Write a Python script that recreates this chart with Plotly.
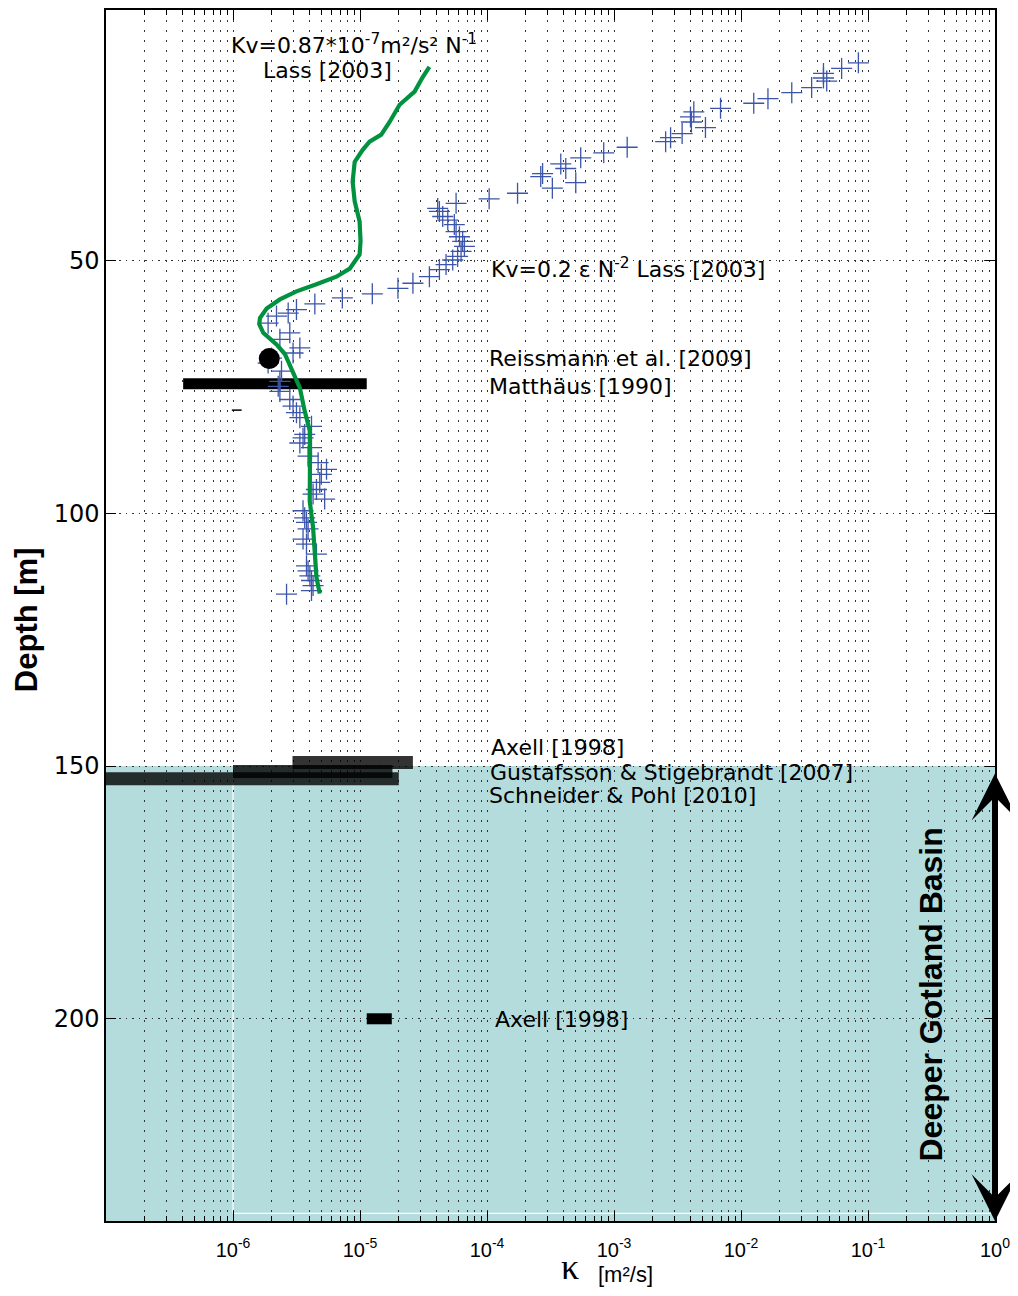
import plotly.graph_objects as go

# ---------------- data ----------------
# Kv = 0.87e-7 m2/s2 / N   (Lass 2003) - green profile
k_green = [3.52e-5, 3.12e-5, 2.69e-5, 2.31e-5, 2.05e-5, 1.71e-5, 1.47e-5, 1.19e-5, 1.05e-5,
           9.08e-6, 8.75e-6, 9.08e-6, 9.93e-6, 1.01e-5, 9.93e-6, 8.3e-6, 6.52e-6, 4.54e-6,
           3.16e-6, 2.34e-6, 1.84e-6, 1.63e-6, 1.61e-6, 1.73e-6, 2.2e-6, 2.56e-6, 2.89e-6,
           3.36e-6, 3.67e-6, 4.02e-6, 4.04e-6, 4.02e-6, 4.02e-6, 4.27e-6, 4.41e-6, 4.54e-6, 4.82e-6]
d_green = [11.7, 13.7, 16.6, 18.0, 19.2, 22.6, 25.1, 26.5, 28.1, 30.5, 34.4, 38.3, 42.3, 46.2,
           48.8, 51.6, 53.2, 54.7, 56.1, 57.7, 59.5, 61.4, 62.6, 64.3, 66.6, 68.5, 71.3, 75.2,
           79.8, 83.7, 89.0, 94.2, 97.6, 102.8, 108.0, 112.7, 115.9]

# Kv = 0.2 eps N^-2 (Lass 2003) - blue crosses
k_cross = [8.4e-2, 6.2e-2, 4.46e-2, 4.46e-2, 4.73e-2, 3.6e-2, 2.51e-2, 1.63e-2, 1.26e-2, 6.9e-3,
           4.25e-3, 4.0e-3, 4.07e-3, 5.25e-3, 3.44e-3, 2.79e-3, 2.55e-3, 1.27e-3, 8.3e-4, 5.47e-4,
           3.81e-4, 4.17e-4, 2.74e-4, 2.65e-4, 5.0e-4, 3.27e-4, 1.74e-4, 1.04e-4, 5.71e-5, 4.09e-5,
           4.22e-5, 4.48e-5, 4.91e-5, 5.53e-5, 5.71e-5, 6.07e-5, 6.43e-5, 6.64e-5, 6.25e-5, 5.87e-5,
           5.37e-5, 4.76e-5, 4.22e-5, 3.52e-5, 2.61e-5, 1.99e-5, 1.25e-5, 7.26e-6, 4.41e-6, 3.16e-6,
           2.72e-6, 2.2e-6, 1.89e-6, 2.8e-6, 2.34e-6, 3.36e-6, 2.97e-6, 2.01e-6, 1.89e-6, 2.41e-6,
           2.34e-6, 2.27e-6, 2.34e-6, 2.8e-6, 2.97e-6, 3.16e-6, 3.36e-6, 4.15e-6, 3.67e-6, 3.56e-6,
           3.36e-6, 4.15e-6, 3.9e-6, 4.68e-6, 5.45e-6, 4.96e-6, 4.82e-6, 4.54e-6, 4.27e-6, 5.27e-6,
           3.56e-6, 3.67e-6, 3.79e-6, 3.9e-6, 3.56e-6, 3.79e-6, 4.54e-6, 3.79e-6, 3.9e-6, 4.03e-6,
           4.15e-6, 4.27e-6, 4.15e-6, 2.64e-6]
d_cross = [10.9, 12.0, 13.0, 13.9, 14.5, 15.8, 16.8, 18.0, 18.9, 19.9,
           20.6, 21.6, 22.6, 23.7, 24.9, 25.7, 26.5, 27.6, 28.7, 29.7,
           30.9, 31.8, 32.8, 33.4, 34.6, 35.7, 36.7, 37.8, 38.7, 39.7,
           40.3, 41.3, 42.0, 42.9, 44.3, 45.3, 46.2, 47.2, 48.2, 49.2,
           49.9, 50.8, 51.8, 53.2, 54.5, 55.5, 56.6, 57.4, 58.6, 59.7,
           60.4, 61.0, 62.4, 64.3, 65.6, 67.3, 68.3, 69.3, 70.3, 71.9,
           73.9, 74.9, 75.9, 77.5, 78.8, 80.1, 81.1, 82.8, 84.4, 85.1,
           86.1, 87.0, 88.7, 90.0, 91.3, 92.3, 93.9, 95.3, 96.2, 97.2,
           99.5, 100.9, 101.8, 103.1, 105.1, 106.1, 108.1, 110.4, 111.4, 112.4,
           113.3, 114.3, 115.3, 116.0]

# Reissmann et al. [2009] point
k_reiss = [1.93e-6]
d_reiss = [69.4]

# small stray mark
k_mark = [1.07e-6]
d_mark = [79.6]

# Range bars (literature values)
bar_labels = ["Matthäus [1990]", "Axell [1998]", "Gustafsson & Stigebrandt [2007]",
              "Schneider & Pohl [2010]", "Axell [1998]"]
bar_kmin = [4.05e-7, 2.94e-6, 1.0e-6, 1.0e-7, 1.13e-5]
bar_kmax = [1.13e-5, 2.61e-5, 1.8e-5, 2.02e-5, 1.78e-5]
bar_depth = [74.4, 149.3, 151.1, 152.5, 200.0]
bar_colors = ["black", "rgba(0,0,0,0.8)", "rgba(0,0,0,0.8)", "rgba(0,0,0,0.8)", "black"]
bar_widths = [11, 13, 13, 13, 11]

# ticks
x_tickvals = [1e-6, 1e-5, 1e-4, 1e-3, 1e-2, 1e-1, 1e0]
x_ticktext = ["10<sup>-6</sup>", "10<sup>-5</sup>", "10<sup>-4</sup>", "10<sup>-3</sup>",
              "10<sup>-2</sup>", "10<sup>-1</sup>", "10<sup>0</sup>"]
x_minor = [m * 10.0 ** e for e in range(-7, 0) for m in range(2, 10)]
y_tickvals = [50, 100, 150, 200]

basin_top, basin_bottom = 150, 240

# The page body has an 8px margin: size the figure so the page needs no scrollbars.
OFF = 8
W, H = 1018 - 2 * OFF, 1296 - 2 * OFF
ML, MR, MT = 106 - OFF, 13, 0
MB = H + OFF - 1221
PW = W - ML - MR            # plot width in px
PH = H - MT - MB            # plot height in px
PX0, PY1 = 106, 1221        # plot left / bottom in page pixels
FIG_BOTTOM = H + OFF        # page pixel of figure bottom

# ---------------- figure ----------------
fig = go.Figure()

order = [3, 2, 1, 0, 4]
for i in order:
    fig.add_trace(go.Scatter(
        x=[bar_kmin[i], bar_kmax[i]], y=[bar_depth[i], bar_depth[i]],
        mode="lines", line=dict(color=bar_colors[i], width=bar_widths[i]),
        hoverinfo="skip", showlegend=False))

fig.add_trace(go.Scatter(
    x=k_cross, y=d_cross, mode="markers",
    marker=dict(symbol="cross-thin", size=15, line=dict(color="#3c55aa", width=1.3)),
    showlegend=False))

fig.add_trace(go.Scatter(
    x=k_green, y=d_green, mode="lines",
    line=dict(color="#00923f", width=4.2), showlegend=False))

fig.add_trace(go.Scatter(
    x=k_reiss, y=d_reiss, mode="markers",
    marker=dict(symbol="circle", size=21, color="black"), showlegend=False))

fig.add_trace(go.Scatter(
    x=k_mark, y=d_mark, mode="markers",
    marker=dict(symbol="line-ew", size=7, line=dict(color="black", width=1.5)),
    showlegend=False))

# shaded deeper basin
fig.add_shape(type="rect", xref="paper", yref="y", x0=0, x1=1, y0=basin_top, y1=basin_bottom,
              fillcolor="#b4dcdc", line=dict(width=0), layer="below")
fig.add_shape(type="line", xref="paper", yref="y", x0=1 / 7, x1=1 / 7, y0=152, y1=238.5,
              line=dict(color="white", width=1.2), layer="below")
fig.add_shape(type="line", xref="paper", yref="y", x0=1 / 7, x1=1, y0=238.5, y1=238.5,
              line=dict(color="white", width=1.2), layer="below")

txt_font = dict(family="DejaVu Sans", size=22, color="black")


def px2paper_x(px):
    return (px - PX0) / PW


def py2paper_y(py):
    return (PY1 - py) / PH


def label(text, px, depth):
    fig.add_annotation(text=text, xref="paper", yref="y", x=px2paper_x(px), y=depth,
                       xanchor="left", yanchor="middle", showarrow=False, font=txt_font)


label("Kv=0.87*10<sup>-7</sup>m²/s² N<sup>-1</sup>", 229, 7.2)
label("Lass [2003]", 261, 12.4)
label("Kv=0.2 ε N<sup>-2</sup> Lass [2003]", 490, 51.4)
label("Reissmann et al. [2009]", 488, 69.3)
label(bar_labels[0], 488, 74.9)
label(bar_labels[1], 490, 146.3)
label(bar_labels[2], 489, 151.2)
label(bar_labels[3], 488, 155.8)
label(bar_labels[4], 494, 200.2)

# double-headed arrow for the deeper basin
fig.add_annotation(x=0, y=basin_bottom, ax=0, ay=151.2, xref="x", yref="y", axref="x", ayref="y",
                   text="", showarrow=True, arrowhead=3, startarrowhead=3, arrowside="end+start",
                   arrowwidth=6, arrowsize=1.3, startarrowsize=1.3, arrowcolor="black",
                   standoff=0, startstandoff=0)
fig.add_annotation(text="<b>Deeper Gotland Basin</b>", xref="paper", yref="paper",
                   x=px2paper_x(933), y=py2paper_y(994), xanchor="center", yanchor="middle",
                   textangle=-90, showarrow=False,
                   font=dict(family="Liberation Sans", size=32, color="black"))

# axis titles
fig.add_annotation(text="<b>Depth [m]</b>", xref="paper", yref="paper",
                   x=px2paper_x(27), y=py2paper_y(619), xanchor="center", yanchor="middle",
                   textangle=-90, showarrow=False,
                   font=dict(family="Liberation Sans", size=31, color="black"))
fig.add_annotation(text="κ", xref="paper", yref="paper",
                   x=px2paper_x(571), y=py2paper_y(FIG_BOTTOM), xanchor="center", yanchor="bottom",
                   borderpad=0, showarrow=False,
                   font=dict(family="Liberation Serif", size=36, color="black"))
fig.add_annotation(text="[m²/s]", xref="paper", yref="paper",
                   x=px2paper_x(627), y=py2paper_y(FIG_BOTTOM), xanchor="center", yanchor="bottom",
                   borderpad=0, showarrow=False,
                   font=dict(family="Liberation Sans", size=22, color="black"))

fig.update_xaxes(
    type="log", range=[-7, 0], tickmode="array", tickvals=x_tickvals, ticktext=x_ticktext,
    ticks="inside", ticklen=10, tickwidth=1, tickcolor="black",
    showline=True, linecolor="black", linewidth=1.5, mirror="ticks",
    showgrid=True, gridcolor="#333", gridwidth=1, griddash="1.5px,8.5px",
    ticklabelstandoff=10, ticklabeloverflow="allow",
    tickfont=dict(family="Liberation Sans", size=20, color="black"),
    minor=dict(tickmode="array", tickvals=x_minor, ticks="inside", ticklen=5, tickcolor="black",
               showgrid=True, gridcolor="#333", gridwidth=1, griddash="1.5px,8.5px"),
    zeroline=False)
fig.update_yaxes(
    range=[240, 0.45], tickmode="array", tickvals=y_tickvals,
    ticks="inside", ticklen=10, tickwidth=1, tickcolor="black",
    showline=True, linecolor="black", linewidth=1.5, mirror="ticks",
    showgrid=True, gridcolor="#333", gridwidth=1, griddash="1.5px,5px",
    tickfont=dict(family="DejaVu Sans", size=24, color="black"),
    zeroline=False)

fig.update_layout(
    width=W, height=H, margin=dict(l=ML, r=MR, t=MT, b=MB),
    paper_bgcolor="white", plot_bgcolor="white", showlegend=False)

fig.write_html("out.html")
